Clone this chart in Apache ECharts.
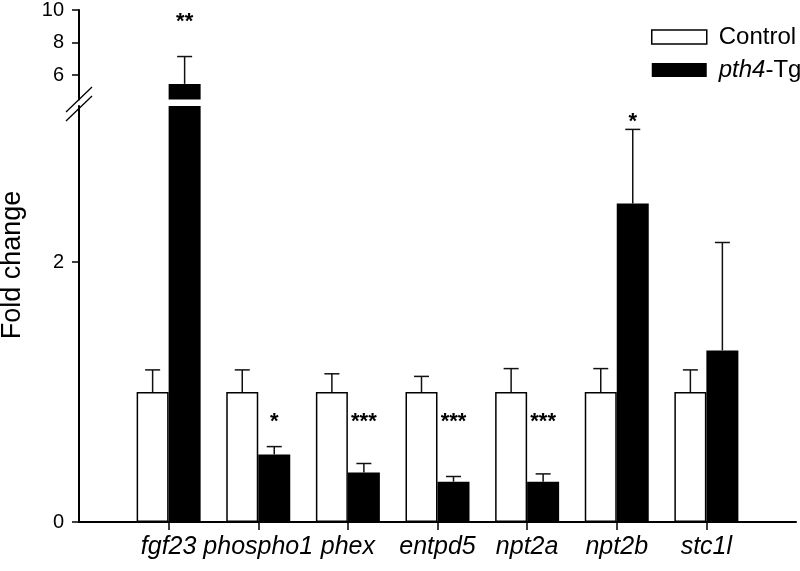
<!DOCTYPE html>
<html><head><meta charset="utf-8">
<script src="https://cdn.jsdelivr.net/npm/echarts@6/dist/echarts.min.js"></script>
<style>html,body{margin:0;padding:0;background:#fff}#c{width:800px;height:571px}</style>
</head><body><div id="c"></div>
<script>
// ---- data ----
const genes = ['fgf23', 'phospho1', 'phex', 'entpd5', 'npt2a', 'npt2b', 'stc1l'];
const controlMean = [1, 1, 1, 1, 1, 1, 1];
const controlErr  = [0.17, 0.17, 0.14, 0.12, 0.18, 0.18, 0.17];
const tgMean = [5.46, 0.52, 0.38, 0.31, 0.31, 2.45, 1.32];
const tgErr  = [1.68, 0.06, 0.07, 0.04, 0.06, 0.57, 0.83];
const stars  = ['**', '*', '***', '***', '***', '*', ''];
const starLevel = [9.25, 0.77, 0.77, 0.77, 0.77, 3.08, null];
const lowerTicks = [0, 2];
const upperTicks = [6, 8, 10];
const lowerRange = [0, 3.2];
const upperRange = [4.5, 10];

// ---- build ----
const cats = [''].concat(genes).concat(['']);
const FONT = '"Liberation Sans", Arial, sans-serif';
const HALF = 16; // half of bar width, offsets for error bars / stars

function padded(arr, fn) {
  return ['-'].concat(arr.map(fn)).concat(['-']);
}
function errData(means, errs, useUpper) {
  const out = [];
  means.forEach((m, i) => {
    const inUpper = m > lowerRange[1];
    if (inUpper === useUpper) out.push([i + 1, m, errs[i]]);
  });
  return out;
}
function errSeries(data, off, gi) {
  return {
    type: 'custom', xAxisIndex: gi, yAxisIndex: gi, data: data, z: 5, silent: true,
    renderItem: function (params, api) {
      const x = api.value(0), m = api.value(1), e = api.value(2);
      const p0 = api.coord([x, m]);
      const p1 = api.coord([x, m + e]);
      const cx = p0[0] + off;
      const st = { stroke: '#111', lineWidth: 1.5 };
      return { type: 'group', children: [
        { type: 'line', shape: { x1: cx, y1: p0[1], x2: cx, y2: p1[1] }, style: st },
        { type: 'line', shape: { x1: cx - 7.5, y1: p1[1], x2: cx + 7.5, y2: p1[1] }, style: st }
      ]};
    }
  };
}
function starData(useUpper) {
  const out = [];
  stars.forEach((s, i) => {
    if (!s) return;
    const inUpper = starLevel[i] > lowerRange[1] + 0.5;
    if (inUpper === useUpper) out.push([i + 1, starLevel[i], s]);
  });
  return out;
}
function starSeries(data, gi) {
  return {
    type: 'custom', xAxisIndex: gi, yAxisIndex: gi, data: data, z: 6, silent: true,
    encode: { x: 0, y: 1 },
    renderItem: function (params, api) {
      const p = api.coord([api.value(0), api.value(1)]);
      const txt = data[params.dataIndex][2];
      return { type: 'text', x: p[0] + HALF, y: p[1],
        style: { text: txt, font: 'bold 22px ' + FONT, fill: '#000',
          align: 'center', verticalAlign: 'middle', textAlign: 'center', textVerticalAlign: 'middle' } };
    }
  };
}

const chart = echarts.init(document.getElementById('c'), null, { renderer: 'canvas' });
const axisLineStyle = { color: '#000', width: 2 };
const option = {
  animation: false,
  backgroundColor: '#fff',
  textStyle: { fontFamily: FONT },
  grid: [
    { left: 79, right: 4, top: 7, height: 92.5 },
    { left: 79, right: 4, top: 106, bottom: 49 }
  ],
  xAxis: [
    { type: 'category', gridIndex: 0, data: cats, boundaryGap: false, show: false },
    { type: 'category', gridIndex: 1, data: cats, boundaryGap: false,
      axisLine: { show: true, lineStyle: axisLineStyle },
      axisTick: { show: true, length: 8, lineStyle: { color: '#000', width: 1.5 },
        interval: function (idx) { return idx > 0 && idx < cats.length - 1; } },
      axisLabel: { interval: 0, margin: 13, fontSize: 25, fontStyle: 'italic', color: '#000', fontFamily: FONT },
      splitLine: { show: false } }
  ],
  yAxis: [
    { type: 'value', gridIndex: 0, min: upperRange[0], max: upperRange[1],
      axisLine: { show: true, lineStyle: axisLineStyle },
      axisTick: { show: true, length: 7, customValues: upperTicks, lineStyle: { color: '#000', width: 1.5 } },
      axisLabel: { customValues: upperTicks, fontSize: 20, color: '#000', margin: 15, fontFamily: FONT },
      splitLine: { show: false } },
    { type: 'value', gridIndex: 1, min: lowerRange[0], max: lowerRange[1],
      axisLine: { show: true, lineStyle: axisLineStyle },
      axisTick: { show: true, length: 7, customValues: lowerTicks, lineStyle: { color: '#000', width: 1.5 } },
      axisLabel: { customValues: lowerTicks, fontSize: 20, color: '#000', margin: 15, fontFamily: FONT },
      splitLine: { show: false } }
  ],
  legend: {
    orient: 'vertical', left: 651, top: 25, padding: 0, itemWidth: 55, itemHeight: 14, itemGap: 9,
    icon: 'rect',
    data: [
      { name: 'Control', icon: 'rect', itemStyle: { color: '#fff', borderColor: '#000', borderWidth: 1.5 } },
      { name: 'pth4-Tg', icon: 'rect', itemStyle: { color: '#000', borderColor: '#000', borderWidth: 0 } }
    ],
    formatter: function (n) { return n === 'pth4-Tg' ? '{i|pth4}{n|-Tg}' : '{c|' + n + '}'; },
    textStyle: { color: '#000', fontSize: 24, fontFamily: FONT,
      rich: {
        c: { fontSize: 24, fontFamily: FONT, color: '#000', padding: [0, 0, 0, 7] },
        n: { fontSize: 24, fontFamily: FONT, color: '#000' },
        i: { fontSize: 24, fontFamily: FONT, color: '#000', fontStyle: 'italic', padding: [0, 0, 0, 7] }
      }
    }
  },
  graphic: [
    { type: 'text', x: 13, y: 265, rotation: Math.PI / 2,
      style: { text: 'Fold change', font: '27px ' + FONT, fill: '#000',
        align: 'center', verticalAlign: 'middle', textAlign: 'center', textVerticalAlign: 'middle' } },
    { type: 'line', shape: { x1: 66, y1: 112, x2: 92, y2: 87 }, style: { stroke: '#000', lineWidth: 1.3 } },
    { type: 'line', shape: { x1: 66, y1: 121, x2: 92, y2: 96 }, style: { stroke: '#000', lineWidth: 1.3 } }
  ],
  series: [
    { name: 'Control', type: 'bar', xAxisIndex: 1, yAxisIndex: 1, barWidth: 32, barGap: '0%',
      data: padded(controlMean, v => v),
      itemStyle: { color: '#fff', borderColor: '#000', borderWidth: 1.5 } },
    { name: 'pth4-Tg', type: 'bar', xAxisIndex: 1, yAxisIndex: 1, barWidth: 32, barGap: '0%',
      data: padded(tgMean, v => v), clip: true,
      itemStyle: { color: '#000' } },
    { name: 'Control', type: 'bar', xAxisIndex: 0, yAxisIndex: 0, barWidth: 32, barGap: '0%',
      data: padded(controlMean, v => (v > upperRange[0] ? v : '-')),
      itemStyle: { color: '#fff', borderColor: '#000', borderWidth: 1.5 } },
    { name: 'pth4-Tg', type: 'bar', xAxisIndex: 0, yAxisIndex: 0, barWidth: 32, barGap: '0%',
      data: padded(tgMean, v => (v > upperRange[0] ? v : '-')), clip: true,
      itemStyle: { color: '#000' } },
    errSeries(errData(controlMean, controlErr, false), -HALF, 1),
    errSeries(errData(tgMean, tgErr, false), HALF, 1),
    errSeries(errData(controlMean, controlErr, true), -HALF, 0),
    errSeries(errData(tgMean, tgErr, true), HALF, 0),
    starSeries(starData(false), 1),
    starSeries(starData(true), 0)
  ]
};
chart.setOption(option);
</script>
</body></html>
